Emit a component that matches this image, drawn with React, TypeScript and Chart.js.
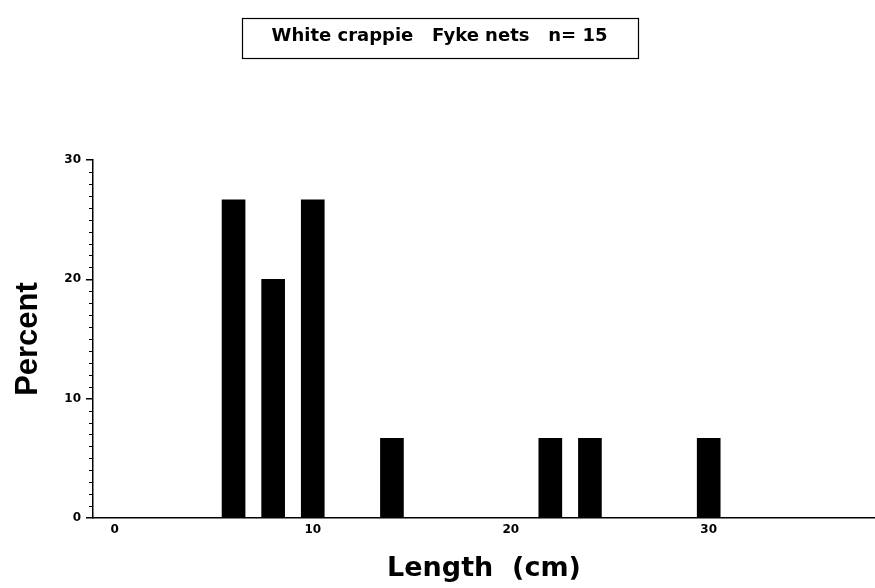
import React, { useEffect, useRef } from 'react';
import { Chart, registerables } from 'chart.js';

Chart.register(...registerables);

const titleText = 'White crappie   Fyke nets   n= 15';
const lengthsCm = [6, 8, 10, 14, 22, 24, 30];
const percentValues = [26.67, 20.0, 26.67, 6.67, 6.67, 6.67, 6.67];
const yTickValues = [0, 10, 20, 30];
const xTickValues = [0, 10, 20, 30];
const xLabel = 'Length  (cm)';
const yLabel = 'Percent';

const FONT = '"DejaVu Sans", sans-serif';
const FONT_V = '"Liberation Sans", Arial, sans-serif';

const titleBoxPlugin = {
  id: 'titleBox',
  afterDraw(chart: any) {
    const tb = chart.titleBlock;
    if (!tb) return;
    const ctx = chart.ctx;
    ctx.save();
    ctx.font = `bold 18px ${FONT}`;
    const w = ctx.measureText(titleText).width;
    const cx = (tb.left + tb.right) / 2;
    ctx.strokeStyle = '#000';
    ctx.lineWidth = 1.2;
    ctx.strokeRect(Math.round(cx - w / 2 - 30) + 0.5, 18.5, Math.round(w + 60), 40);
    ctx.restore();
  },
};

const minorTickPlugin = {
  id: 'minorTicks',
  afterDraw(chart: any) {
    const y = chart.scales.y;
    const ctx = chart.ctx;
    ctx.save();
    ctx.strokeStyle = '#000';
    ctx.lineWidth = 1;
    for (let v = y.min; v <= y.max; v++) {
      if (v % 10 === 0) continue;
      const py = Math.round(y.getPixelForValue(v)) + 0.5;
      ctx.beginPath();
      ctx.moveTo(y.right - 4, py);
      ctx.lineTo(y.right, py);
      ctx.stroke();
    }
    ctx.restore();
  },
};

export default function App() {
  const ref = useRef<HTMLCanvasElement | null>(null);
  useEffect(() => {
    if (!ref.current) return;
    const chart = new Chart(ref.current, {
      type: 'bar',
      data: {
        datasets: [
          {
            data: lengthsCm.map((x, i) => ({ x, y: percentValues[i] })),
            backgroundColor: '#000',
            borderWidth: 0,
            barThickness: 23,
          },
        ],
      },
      options: {
        animation: false,
        responsive: true,
        maintainAspectRatio: false,
        layout: { padding: { left: 4, right: 0, top: 0, bottom: 3 } },
        plugins: {
          legend: { display: false },
          tooltip: { enabled: false },
          title: {
            display: true,
            text: titleText,
            color: '#000',
            font: { family: FONT, weight: 'bold', size: 18 },
            padding: { top: 26, bottom: 112.4 },
          },
        },
        scales: {
          x: {
            type: 'linear',
            offset: false,
            min: -1.1,
            max: 38.4,
            afterBuildTicks: (s: any) => {
              s.ticks = xTickValues.map((v) => ({ value: v }));
            },
            ticks: {
              color: '#000',
              font: { family: FONT, weight: 'bold', size: 12 },
              padding: 5,
              maxRotation: 0,
            },
            grid: { display: false, tickLength: 0 },
            border: { display: true, color: '#000', width: 1.5 },
            title: {
              display: true,
              text: xLabel,
              color: '#000',
              font: { family: FONT, weight: 'bold', size: 27 },
              padding: 0,
            },
            afterFit: (s: any) => {
              s.height = 67;
            },
          },
          y: {
            min: 0,
            max: 30,
            afterBuildTicks: (s: any) => {
              s.ticks = yTickValues.map((v) => ({ value: v }));
            },
            ticks: {
              color: '#000',
              font: { family: FONT, weight: 'bold', size: 12 },
              padding: 5,
            },
            grid: { drawOnChartArea: false, drawTicks: true, tickLength: 7, color: '#000', lineWidth: 1.5 },
            border: { display: true, color: '#000', width: 1.5 },
            title: {
              display: true,
              text: yLabel,
              color: '#000',
              font: { family: FONT_V, weight: 'bold', size: 31 },
              padding: { top: 6, bottom: 0 },
            },
            afterFit: (s: any) => {
              s.width = 89;
            },
          },
        },
      },
      plugins: [titleBoxPlugin, minorTickPlugin],
    } as any);
    return () => chart.destroy();
  }, []);
  return (
    <div style={{ position: 'fixed', left: 0, top: 0, width: 875, height: 588, background: '#fff' }}>
      <canvas ref={ref} />
    </div>
  );
}
